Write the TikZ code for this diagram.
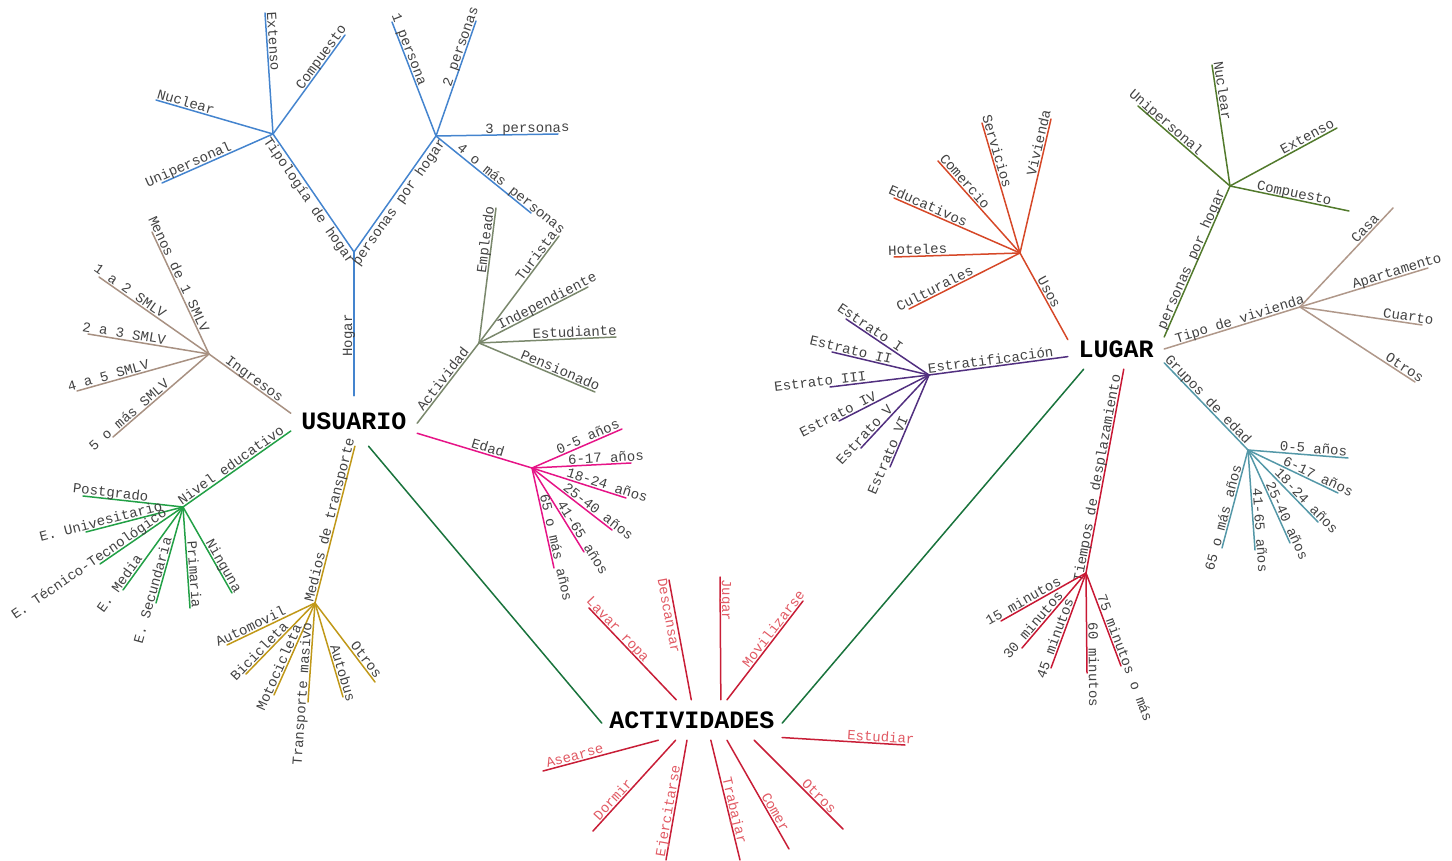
\documentclass[tikz,border=0pt]{standalone}
\usepackage{fontspec}
\newfontfamily\lblfont{Liberation Mono}

% branch colours
\definecolor{txtc}{RGB}{66,66,66}
\definecolor{hogc}{RGB}{68,132,206}
\definecolor{ingc}{RGB}{168,145,130}
\definecolor{educ}{RGB}{34,160,70}
\definecolor{medc}{RGB}{192,152,24}
\definecolor{actvc}{RGB}{122,136,108}
\definecolor{edadc}{RGB}{230,20,135}
\definecolor{linkc}{RGB}{25,115,60}
\definecolor{actc}{RGB}{200,30,55}
\definecolor{acttxt}{RGB}{225,90,100}
\definecolor{usoc}{RGB}{214,72,40}
\definecolor{estc}{RGB}{82,48,128}
\definecolor{pphc}{RGB}{82,122,44}
\definecolor{vivc}{RGB}{176,152,138}
\definecolor{grpc}{RGB}{84,152,168}
\definecolor{timc}{RGB}{200,24,52}

\tikzset{
  lbl/.style={font=\lblfont\fontsize{14}{16}\selectfont, text=txtc, sloped,
              inner sep=1.2pt, text depth=0pt},
  actlbl/.style={lbl, text=acttxt},
  mainnode/.style={font=\lblfont\bfseries\fontsize{25}{28}\selectfont,
                   text=black, inner sep=0pt},
  branch/.style={line width=1.5pt, line cap=round},
}

% #1 start, #2 name of the free end, #3 its position, #4 label pos, #5 side, #6 label
\newcommand\leaf[6]{%
  \coordinate (#2) at (#3);
  \draw (#1) -- (#2) node[lbl,#5,pos=#4] {#6};
}
\newcommand\actleaf[6]{%
  \coordinate (#2) at (#3);
  \draw (#1) -- (#2) node[actlbl,#5,pos=#4] {#6};
}

\begin{document}
\begin{tikzpicture}[x=1pt,y=-1pt]
\useasboundingbox (0,0) rectangle (1452,861);

% ---------- central concepts ----------
\node[mainnode, minimum width=126pt, minimum height=50pt] (usuario) at (354,421) {USUARIO};
\node[mainnode, minimum width=96pt, minimum height=40pt] (lugar) at (1116,349) {LUGAR};
\node[mainnode, minimum width=180pt, minimum height=40pt] (actividades) at (692,720) {ACTIVIDADES};

\begin{scope}[branch, color=linkc]
  \draw (usuario.300) -- (actividades.182);
  \draw (lugar.212) -- (actividades.358);
\end{scope}

% ---------- USUARIO: Hogar ----------
\begin{scope}[branch, color=hogc]
  \coordinate (hog) at (354,252);
  \coordinate (tip) at (273,134);
  \coordinate (pph) at (436,136);
  \draw (usuario.north) -- (hog) node[lbl,above,pos=.42] {Hogar};
  \draw (tip) -- (hog) node[lbl,below,pos=.53] {Tipología de hogar};
  \draw (hog) -- (pph) node[lbl,below,pos=.47] {personas por hogar};
  \leaf{tip}{tip1}{265,13}{.76}{above}{Extenso}
  \leaf{tip}{tip2}{345,35}{.74}{above}{Compuesto}
  \leaf{tip}{tip3}{156,100}{.76}{above}{Nuclear}
  \leaf{tip}{tip4}{162,183}{.74}{above}{Unipersonal}
  \leaf{pph}{pph1}{392,22}{.74}{above}{1 persona}
  \leaf{pph}{pph2}{476,21}{.76}{above}{2 personas}
  \leaf{pph}{pph3}{558,134}{.75}{above}{3 personas}
  \leaf{pph}{pph4}{531,213}{.75}{above}{4 o más personas}
\end{scope}

% ---------- USUARIO: Ingresos ----------
\begin{scope}[branch, color=ingc]
  \coordinate (ing) at (209,354);
  \draw (usuario.173) -- (ing) node[lbl,above,pos=.49] {Ingresos};
  \leaf{ing}{ing1}{152,232}{.63}{above}{Menos de 1 SMLV}
  \leaf{ing}{ing2}{99,277}{.75}{above}{1 a 2 SMLV}
  \leaf{ing}{ing3}{88,334}{.71}{above}{2 a 3 SMLV}
  \leaf{ing}{ing4}{77,391}{.75}{above}{4 a 5 SMLV}
  \leaf{ing}{ing5}{113,437}{.79}{above}{5 o más SMLV}
\end{scope}

% ---------- USUARIO: Nivel educativo ----------
\begin{scope}[branch, color=educ]
  \coordinate (edu) at (183,507);
  \draw (usuario.189) -- (edu) node[lbl,above,pos=.52] {Nivel educativo};
  \leaf{edu}{edu1}{83,496}{.73}{above}{Postgrado}
  \leaf{edu}{edu2}{86,532}{.83}{above}{E. Univesitario}
  \leaf{edu}{edu3}{100,564}{1.09}{above}{E. Técnico-Tecnológico}
  \leaf{edu}{edu4}{123,590}{.97}{above}{E. Media}
  \leaf{edu}{edu5}{156,603}{.885}{above}{E. Secundaria}
  \leaf{edu}{edu6}{190,608}{.67}{above}{Primaria}
  \leaf{edu}{edu7}{232,593}{.72}{above}{Ninguna}
\end{scope}

% ---------- USUARIO: Medios de transporte ----------
\begin{scope}[branch, color=medc]
  \coordinate (med) at (315,603);
  \draw (usuario.272) -- (med) node[lbl,above,pos=.48] {Medios de transporte};
  \leaf{med}{med1}{227,645}{.70}{above}{Automovil}
  \leaf{med}{med2}{246,674}{.74}{above}{Bicicleta}
  \leaf{med}{med3}{274,695}{.73}{above}{Motocicleta}
  \leaf{med}{med4}{308,702}{.92}{above}{Transporte masivo}
  \leaf{med}{med5}{343,697}{.77}{above}{Autobus}
  \leaf{med}{med6}{375,682}{.77}{above}{Otros}
\end{scope}

% ---------- USUARIO: Actividad ----------
\begin{scope}[branch, color=actvc]
  \coordinate (acv) at (479,343);
  \draw (usuario.358) -- (acv) node[lbl,above,pos=.50] {Actividad};
  \leaf{acv}{acv1}{496,208}{.76}{above}{Empleado}
  \leaf{acv}{acv2}{559,236}{.78}{above}{Turista}
  \leaf{acv}{acv3}{588,287}{.65}{above}{Independiente}
  \leaf{acv}{acv4}{616,337}{.70}{above}{Estudiante}
  \leaf{acv}{acv5}{595,392}{.68}{above}{Pensionado}
\end{scope}

% ---------- USUARIO: Edad ----------
\begin{scope}[branch, color=edadc]
  \coordinate (eda) at (532,468);
  \draw (usuario.349) -- (eda) node[lbl,above,pos=.60] {Edad};
  \leaf{eda}{eda1}{622,429}{.65}{above}{0-5 años}
  \leaf{eda}{eda2}{631,463}{.75}{above}{6-17 años}
  \leaf{eda}{eda3}{626,498}{.78}{above}{18-24 años}
  \leaf{eda}{eda4}{612,530}{.78}{above}{25-40 años}
  \leaf{eda}{eda5}{584,552}{.87}{above}{41-65 años}
  \leaf{eda}{eda6}{554,568}{.81}{above}{65 o más años}
\end{scope}

% ---------- ACTIVIDADES ----------
\begin{scope}[branch, color=actc]
  \actleaf{actividades.128}{av1}{589,608}{.72}{above}{Lavar ropa}
  \actleaf{actividades.92}{av2}{669,580}{.71}{below}{Descansar}
  \actleaf{actividades.35}{av3}{720,577}{.81}{above}{Jugar}
  \actleaf{actividades.30}{av4}{803,601}{.68}{above}{Movilizarse}
  \actleaf{actividades.349}{av5}{905,745}{.80}{above}{Estudiar}
  \actleaf{actividades.342}{av6}{843,829}{.68}{above}{Otros}
  \actleaf{actividades.330}{av7}{789,849}{.69}{above}{Comer}
  \actleaf{actividades.313}{av8}{740,860}{.60}{above}{Trabajar}
  \actleaf{actividades.256}{av9}{666,860}{.60}{above}{Ejercitarse}
  \actleaf{actividades.231}{av10}{593,831}{.70}{above}{Dormir}
  \actleaf{actividades.211}{av11}{543,771}{.71}{above}{Asearse}
\end{scope}

% ---------- LUGAR: Usos ----------
\begin{scope}[branch, color=usoc]
  \coordinate (uso) at (1020,253);
  \draw (uso) -- (lugar.169) node[lbl,above,pos=.49] {Usos};
  \leaf{uso}{uso1}{1051,119}{.81}{above}{Vivienda}
  \leaf{uso}{uso2}{982,123}{.77}{above}{Servicios}
  \leaf{uso}{uso3}{938,161}{.73}{above}{Comercio}
  \leaf{uso}{uso4}{894,198}{.75}{above}{Educativos}
  \leaf{uso}{uso5}{894,257}{.81}{above}{Hoteles}
  \leaf{uso}{uso6}{909,309}{.74}{above}{Culturales}
\end{scope}

% ---------- LUGAR: Estratificación ----------
\begin{scope}[branch, color=estc]
  \coordinate (est) at (929,375);
  \draw (est) -- (lugar.189) node[lbl,above,pos=.45] {Estratificación};
  \leaf{est}{est1}{846,319}{.75}{above}{Estrato I}
  \leaf{est}{est2}{832,352}{.82}{above}{Estrato II}
  \leaf{est}{est3}{830,387}{1.09}{above}{Estrato III}
  \leaf{est}{est4}{839,421}{.98}{above}{Estrato IV}
  \leaf{est}{est5}{861,448}{.88}{above}{Estrato V}
  \leaf{est}{est6}{890,467}{.90}{above}{Estrato VI}
\end{scope}

% ---------- LUGAR: personas por hogar ----------
\begin{scope}[branch, color=pphc]
  \coordinate (lph) at (1230,186);
  \draw (lugar.14) -- (lph) node[lbl,above,pos=.50] {personas por hogar};
  \leaf{lph}{lph1}{1138,106}{.74}{above}{Unipersonal}
  \leaf{lph}{lph2}{1212,65}{.78}{above}{Nuclear}
  \leaf{lph}{lph3}{1337,128}{.75}{above}{Extenso}
  \leaf{lph}{lph4}{1349,211}{.53}{above}{Compuesto}
\end{scope}

% ---------- LUGAR: Tipo de vivienda ----------
\begin{scope}[branch, color=vivc]
  \coordinate (viv) at (1300,307);
  \draw (lugar.east) -- (viv) node[lbl,above,pos=.57] {Tipo de vivienda};
  \leaf{viv}{viv1}{1393,208}{.75}{above}{Casa}
  \leaf{viv}{viv2}{1428,268}{.77}{above}{Apartamento}
  \leaf{viv}{viv3}{1422,325}{.88}{above}{Cuarto}
  \leaf{viv}{viv4}{1415,382}{.88}{above}{Otros}
\end{scope}

% ---------- LUGAR: Grupos de edad ----------
\begin{scope}[branch, color=grpc]
  \coordinate (grp) at (1248,450);
  \draw (lugar.344) -- (grp) node[lbl,above,pos=.47] {Grupos de edad};
  \leaf{grp}{grp1}{1348,458}{.65}{above}{0-5 años}
  \leaf{grp}{grp2}{1338,493}{.75}{above}{6-17 años}
  \leaf{grp}{grp3}{1318,522}{.77}{above}{18-24 años}
  \leaf{grp}{grp4}{1290,543}{.79}{above}{25-40 años}
  \leaf{grp}{grp5}{1255,550}{.81}{above}{41-65 años}
  \leaf{grp}{grp6}{1222,548}{.71}{above}{65 o más años}
\end{scope}

% ---------- LUGAR: Tiempos de desplazamiento ----------
\begin{scope}[branch, color=timc]
  \coordinate (tim) at (1086,573);
  \draw (tim) -- (lugar.291) node[lbl,above,pos=.46] {Tiempos de desplazamiento};
  \leaf{tim}{tim1}{1001,621}{.70}{above}{15 minutos}
  \leaf{tim}{tim2}{1022,648}{.75}{above}{30 minutos}
  \leaf{tim}{tim3}{1051,668}{.71}{above}{45 minutos}
  \leaf{tim}{tim4}{1087,673}{.92}{above}{60 minutos}
  \leaf{tim}{tim5}{1121,666}{.94}{above}{75 minutos o más}
\end{scope}

\end{tikzpicture}
\end{document}
